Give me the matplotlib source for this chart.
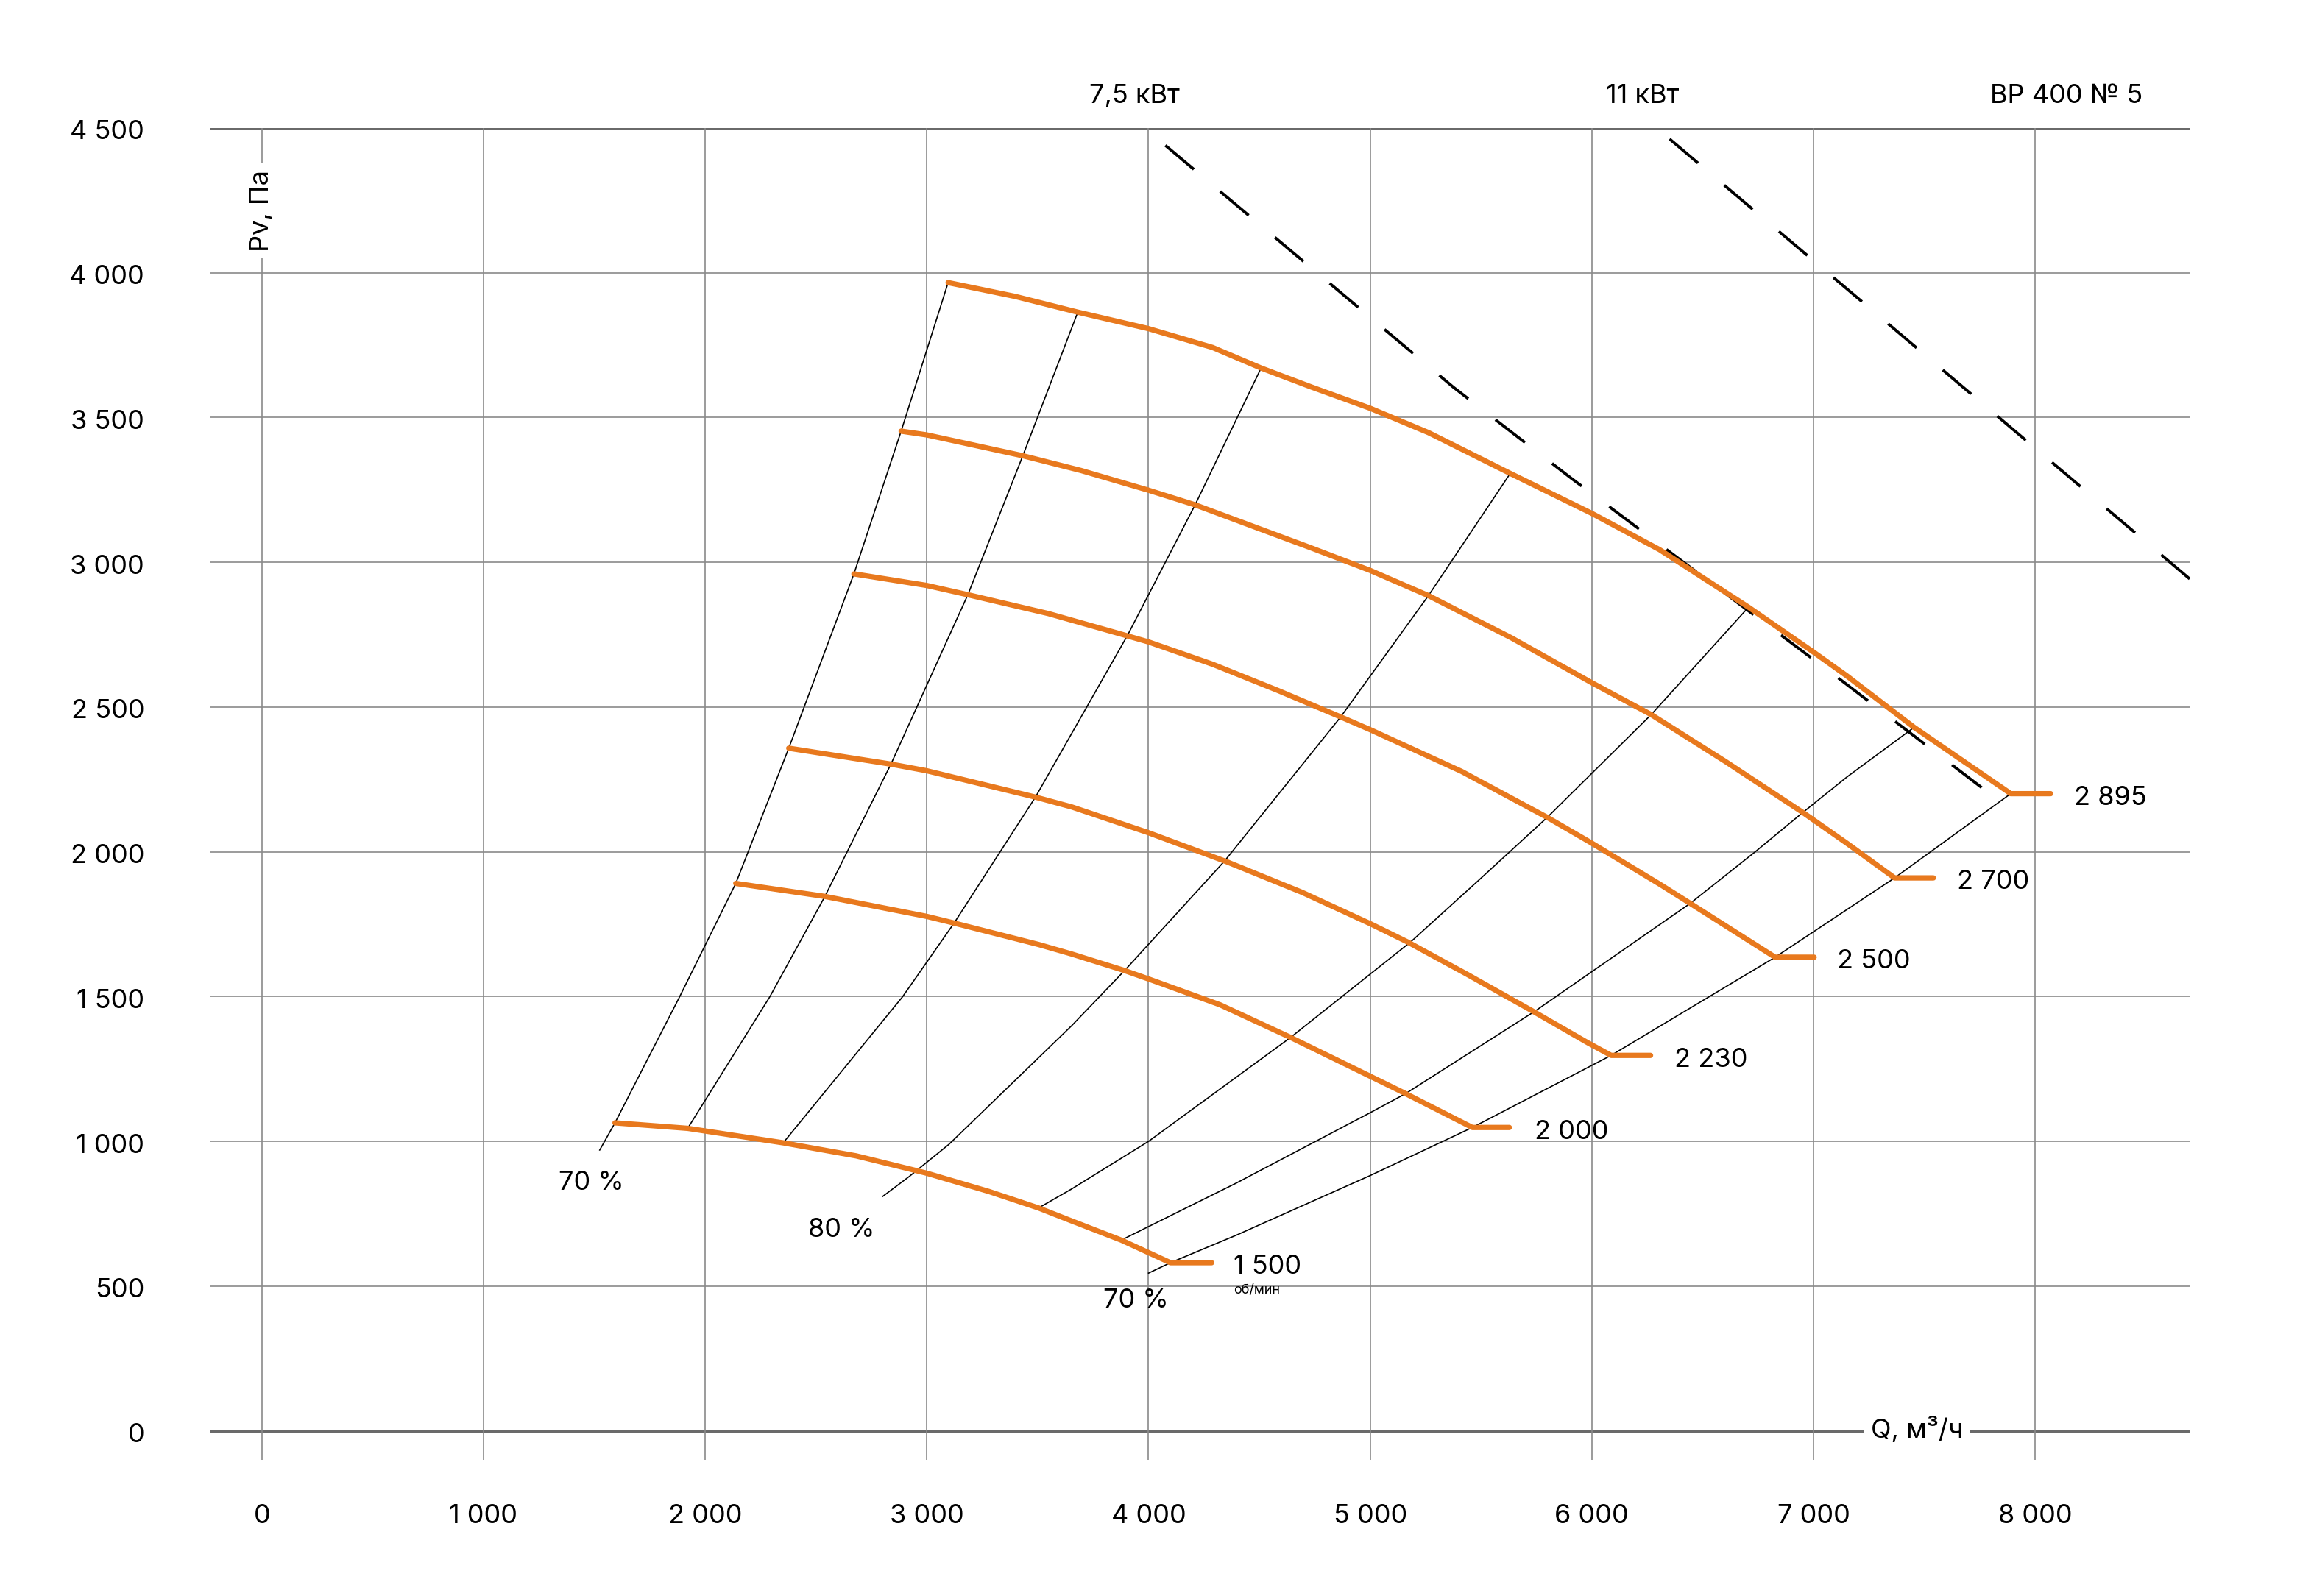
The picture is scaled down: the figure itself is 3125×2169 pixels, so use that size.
import matplotlib
matplotlib.use("Agg")
import matplotlib.pyplot as plt

plt.rcParams['font.family'] = ['Inter', 'DejaVu Sans']

# --- fan curves (Q, m3/h -> Pv, Pa), one per speed ---
rpm_labels = ["1 500", "2 000", "2 230", "2 500", "2 700", "2 895"]
q_1500 = [1593, 1921, 2352, 2681, 3000, 3280, 3504, 3654, 3877, 4099]
p_1500 = [1064, 1045, 995, 950, 890, 827, 770, 725, 659, 581]
q_2000 = [2138, 2540, 3000, 3123, 3504, 3654, 3892, 4000, 4322, 4641, 5000, 5160, 5461]
p_2000 = [1891, 1846, 1777, 1754, 1680, 1647, 1590, 1561, 1472, 1359, 1225, 1165, 1048]
q_2230 = [2377, 2838, 3000, 3490, 3654, 4000, 4352, 4693, 5000, 5168, 5435, 5731, 5981, 6087]
p_2230 = [2358, 2303, 2280, 2189, 2155, 2066, 1966, 1860, 1752, 1689, 1578, 1451, 1341, 1297]
q_2500 = [2671, 3000, 3185, 3548, 3904, 4000, 4289, 4585, 4867, 5000, 5412, 5799, 6000, 6305, 6444, 6827]
p_2500 = [2960, 2920, 2888, 2823, 2746, 2725, 2648, 2557, 2466, 2422, 2278, 2119, 2030, 1889, 1822, 1636]
q_2700 = [2884, 3000, 3433, 3696, 4000, 4212, 4511, 4733, 5000, 5263, 5635, 6000, 6268, 6603, 6952, 7150, 7366]
p_2700 = [3453, 3440, 3368, 3317, 3249, 3198, 3113, 3050, 2972, 2885, 2740, 2584, 2474, 2312, 2136, 2030, 1910]
q_2895 = [3096, 3400, 3681, 4000, 4289, 4508, 4733, 5000, 5263, 5632, 6000, 6305, 6707, 7000, 7150, 7454, 7890]
p_2895 = [3966, 3918, 3864, 3807, 3742, 3671, 3606, 3532, 3448, 3307, 3169, 3044, 2845, 2690, 2608, 2430, 2201]
stub_end = [4285, 5628, 6265, 7003, 7541, 8070]
label_q = [4385, 5742, 6372, 7108, 7646, 8175]

# --- efficiency lines ---
eff_q = [
    [1524, 1593, 1885, 2138, 2377, 2671, 2884, 3096],
    [1921, 2292, 2540, 2838, 3185, 3433, 3681],
    [2352, 2891, 3123, 3490, 3904, 4212, 4508],
    [2801, 2921, 3100, 3654, 3892, 4344, 4867, 5263, 5632],
    [3504, 3654, 4000, 4641, 5183, 5487, 5799, 6268, 6707],
    [3877, 4396, 5000, 5160, 5746, 6444, 6737, 6952, 7150, 7454],
    [4000, 4099, 4396, 5000, 5461, 6087, 6827, 7366, 7890],
]
eff_p = [
    [970, 1064, 1500, 1891, 2358, 2960, 3453, 3966],
    [1045, 1500, 1846, 2303, 2888, 3368, 3864],
    [995, 1500, 1754, 2189, 2746, 3201, 3671],
    [810, 879, 990, 1400, 1590, 1969, 2466, 2885, 3307],
    [770, 836, 1000, 1359, 1689, 1900, 2119, 2474, 2845],
    [659, 856, 1099, 1165, 1451, 1822, 2000, 2136, 2258, 2430],
    [545, 581, 676, 882, 1048, 1297, 1636, 1910, 2201],
]
eff_labels = ["70 %", "80 %", "70 %"]
eff_label_q = [1487, 2616, 3944]
eff_label_p = [857, 695, 451]

# --- motor power limits ---
kw_75_q = [4076, 5375, 5906, 7116, 7846]
kw_75_p = [4440, 3605, 3291, 2598, 2171]
kw_11_q = [6351, 6966, 8700]
kw_11_p = [4462, 4064, 2941]

x_ticks = [0, 1000, 2000, 3000, 4000, 5000, 6000, 7000, 8000]
y_ticks = [0, 500, 1000, 1500, 2000, 2500, 3000, 3500, 4000, 4500]


def fmt(v):
    return f"{v:,}".replace(",", " ")


ORANGE = '#E8791E'
GRID = '#8a8a8a'
FS = 13

fig = plt.figure(figsize=(15.625, 10.845), dpi=200)
ax = fig.add_axes([0.0915, 0.0853, 0.8608, 0.8345])
ax.set_xlim(-232, 8700)
ax.set_ylim(-100, 4500)
ax.axis('off')

# grid
for y in y_ticks:
    if y in (0, 4500):
        ax.plot([-232, 8700], [y, y], color='#6a6a6a', lw=1.1, zorder=1)
    else:
        ax.plot([-232, 8700], [y, y], color=GRID, lw=0.6, zorder=1)
    ax.text(-530, y - 15, fmt(y), ha='right', va='center', fontsize=FS, clip_on=False)
for x in x_ticks:
    ax.plot([x, x], [-100, 4500], color=GRID, lw=0.6, zorder=1)
    ax.text(x, -294, fmt(x), ha='center', va='center', fontsize=FS, clip_on=False)
ax.plot([8700, 8700], [0, 4500], color='#6a6a6a', lw=1.0, zorder=1)

# axis names
ax.text(0, 4215, "Pv, Па", rotation=90, ha='center', va='center', fontsize=FS,
        bbox=dict(facecolor='white', edgecolor='none', pad=3), zorder=2)
ax.text(7467, 5, "Q, м³/ч", ha='center', va='center', fontsize=FS,
        bbox=dict(facecolor='white', edgecolor='none', pad=3), zorder=2)

# efficiency lines
for qs, ps in zip(eff_q, eff_p):
    ax.plot(qs, ps, color='black', lw=0.6, zorder=3, solid_joinstyle='round')
for lab, q, p in zip(eff_labels, eff_label_q, eff_label_p):
    ax.text(q, p, lab, ha='center', va='center', fontsize=FS)

# power limits
for qs, ps in ((kw_75_q, kw_75_p), (kw_11_q, kw_11_p)):
    ln, = ax.plot(qs, ps, color='black', lw=1.4, zorder=3, solid_capstyle='butt')
    ln.set_dashes((13, 12))

# fan curves
curves_q = [q_1500, q_2000, q_2230, q_2500, q_2700, q_2895]
curves_p = [p_1500, p_2000, p_2230, p_2500, p_2700, p_2895]
for qs, ps, se, lq, lab in zip(curves_q, curves_p, stub_end, label_q, rpm_labels):
    ax.plot(qs + [se], ps + [ps[-1]], color=ORANGE, lw=2.6, zorder=4,
            solid_capstyle='round', solid_joinstyle='round')
    ax.text(lq, ps[-1] - 15, lab, ha='left', va='center', fontsize=FS)
ax.text(label_q[0], 487, "об/мин", ha='left', va='center', fontsize=6.5)

# header labels
ax.text(3936, 4610, "7,5 кВт", ha='center', va='center', fontsize=FS, clip_on=False)
ax.text(6229, 4610, "11 кВт", ha='center', va='center', fontsize=FS, clip_on=False)
ax.text(8140, 4610, "ВР 400 № 5", ha='center', va='center', fontsize=FS, clip_on=False)

fig.savefig("out.png", dpi=200, facecolor='white')
